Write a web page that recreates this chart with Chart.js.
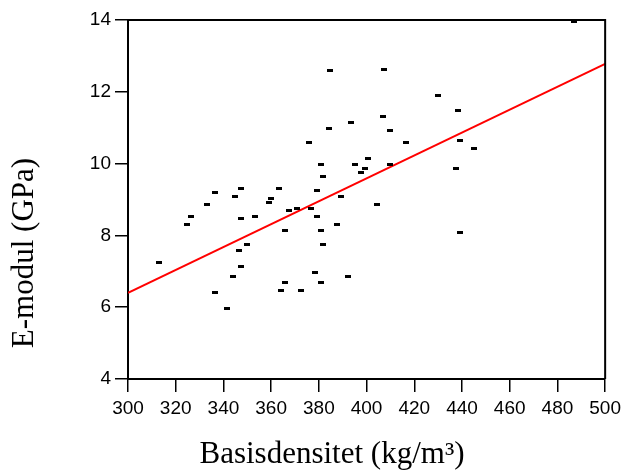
<!DOCTYPE html>
<html>
<head>
<meta charset="utf-8">
<script src="https://cdn.jsdelivr.net/npm/chart.js@4"></script>
<style>
  html, body { margin: 0; padding: 0; background: #fff; }
  #wrap { width: 626px; height: 471px; }
</style>
</head>
<body>
<div id="wrap"><canvas id="chart" width="626" height="471"></canvas></div>
<script>
// basis density (kg/m3) and E-modulus (GPa) per sample
const densitet = [
    384.7, 393.3, 384.1, 375.9, 400.4, 380.8, 395.0, 399.3, 397.5, 381.8,
    379.1, 336.6, 347.4, 363.3, 344.9, 360.0, 359.3, 389.1, 486.8, 407.4,
    430.0, 438.4, 406.7, 410.0, 416.6, 439.2, 445.1, 410.0, 437.5, 333.2,
    326.5, 324.9, 347.4, 353.3, 367.4, 370.7, 376.6, 379.1, 365.9, 380.8,
    387.4, 381.8, 350.0, 346.6, 313.1, 347.4, 344.1, 378.4, 365.9, 380.8,
    392.2, 336.6, 364.2, 372.6, 341.6, 404.2, 439.2
];
const emodul = [
    12.59, 11.14, 10.98, 10.58, 10.13, 9.97, 9.97, 9.86, 9.75, 9.64,
    9.25, 9.19, 9.31, 9.31, 9.08, 9.02, 8.92, 9.08, 13.97, 12.63,
    11.91, 11.47, 11.30, 10.91, 10.58, 10.64, 10.41, 9.97, 9.86, 8.86,
    8.52, 8.30, 8.47, 8.52, 8.69, 8.75, 8.75, 8.52, 8.13, 8.13,
    8.30, 7.74, 7.74, 7.58, 7.25, 7.13, 6.85, 6.97, 6.68, 6.68,
    6.85, 6.42, 6.47, 6.47, 5.97, 8.86, 8.08
];

// linear fit, end points
const fitX = [300, 500];
const fitY = [6.40, 12.78];

const xTicks = [300, 320, 340, 360, 380, 400, 420, 440, 460, 480, 500];
const yTicks = [4, 6, 8, 10, 12, 14];

// small flat black marker
const marker = document.createElement('canvas');
marker.width = 6;
marker.height = 3;
const mctx = marker.getContext('2d');
mctx.fillStyle = '#000';
mctx.fillRect(0, 0, 6, 3);

// closes the box on top / right and writes the axis titles
const frameAndTitles = {
    id: 'frameAndTitles',
    afterDraw(chart) {
        const { ctx, chartArea: a } = chart;
        ctx.save();
        ctx.strokeStyle = '#000';
        ctx.lineWidth = 2;
        ctx.beginPath();
        ctx.moveTo(a.left, a.top);
        ctx.lineTo(a.right, a.top);
        ctx.lineTo(a.right, a.bottom);
        ctx.stroke();

        ctx.fillStyle = '#000';
        ctx.font = '31px "Liberation Serif", "Times New Roman", serif';
        ctx.textAlign = 'center';
        ctx.textBaseline = 'alphabetic';
        ctx.fillText('Basisdensitet (kg/m\u00B3)', a.left + 204, a.bottom + 84);

        ctx.translate(a.left - 95, a.top + 233);
        ctx.rotate(-Math.PI / 2);
        ctx.fillText('E-modul (GPa)', 0, 0);
        ctx.restore();
    }
};

new Chart(document.getElementById('chart'), {
    type: 'scatter',
    data: {
        datasets: [
            {
                label: 'Prøver',
                data: densitet.map((d, i) => ({ x: d, y: emodul[i] })),
                pointStyle: marker,
                pointRadius: 3,
                order: 1
            },
            {
                type: 'line',
                label: 'Regresjon',
                data: fitX.map((d, i) => ({ x: d, y: fitY[i] })),
                borderColor: '#ff0000',
                borderWidth: 2,
                pointRadius: 0,
                fill: false,
                order: 2
            }
        ]
    },
    options: {
        responsive: false,
        animation: false,
        layout: { padding: { top: 20, right: 20, left: 0, bottom: 0 } },
        plugins: {
            legend: { display: false },
            tooltip: { enabled: false }
        },
        scales: {
            x: {
                type: 'linear',
                min: 300,
                max: 500,
                afterBuildTicks: s => { s.ticks = xTicks.map(v => ({ value: v })); },
                afterFit: s => { s.height = 92; },
                grid: {
                    drawOnChartArea: false,
                    color: '#000',
                    lineWidth: 1.5,
                    tickLength: 13
                },
                border: { color: '#000', width: 2 },
                ticks: {
                    color: '#000',
                    padding: 5,
                    maxRotation: 0,
                    font: { family: 'Liberation Sans', size: 19 }
                }
            },
            y: {
                type: 'linear',
                min: 4,
                max: 14,
                afterBuildTicks: s => { s.ticks = yTicks.map(v => ({ value: v })); },
                afterFit: s => { s.width = 128; },
                grid: {
                    drawOnChartArea: false,
                    color: '#000',
                    lineWidth: 1.5,
                    tickLength: 13
                },
                border: { color: '#000', width: 2 },
                ticks: {
                    color: '#000',
                    padding: 4,
                    font: { family: 'Liberation Sans', size: 19 }
                }
            }
        }
    },
    plugins: [frameAndTitles]
});
</script>
</body>
</html>
